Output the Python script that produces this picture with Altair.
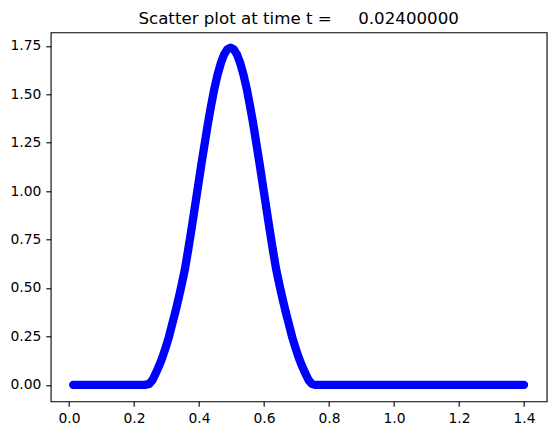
import altair as alt
import pandas as pd

# flat zero region (left)
x_left_flat = [0.013, 0.033, 0.053, 0.073, 0.093, 0.113, 0.133, 0.153, 0.173, 0.193, 0.213, 0.233]
# bump region
x_bump = [0.247, 0.257, 0.267, 0.277, 0.287, 0.297, 0.307, 0.317, 0.327, 0.337,
          0.347, 0.357, 0.367, 0.377, 0.387, 0.397, 0.407, 0.417, 0.427, 0.437,
          0.447, 0.457, 0.467, 0.477, 0.487, 0.497, 0.507, 0.517, 0.527, 0.537,
          0.547, 0.557, 0.567, 0.577, 0.587, 0.597, 0.607, 0.617, 0.627, 0.637,
          0.647, 0.657, 0.667, 0.677, 0.687, 0.697, 0.707, 0.717, 0.727, 0.737,
          0.747]
y_bump = [0.005, 0.025, 0.06, 0.097, 0.14, 0.19, 0.245, 0.31, 0.375, 0.445,
          0.52, 0.60, 0.70, 0.805, 0.915, 1.025, 1.135, 1.24, 1.345, 1.44,
          1.527, 1.60, 1.66, 1.705, 1.732, 1.741, 1.732, 1.705, 1.66, 1.60,
          1.527, 1.44, 1.345, 1.24, 1.135, 1.025, 0.915, 0.805, 0.70, 0.60,
          0.52, 0.445, 0.375, 0.31, 0.245, 0.19, 0.14, 0.097, 0.06, 0.025,
          0.005]
# flat zero region (right)
x_right_flat = [0.757, 0.777, 0.797, 0.817, 0.837, 0.857, 0.877, 0.897, 0.917, 0.937,
                0.957, 0.977, 0.997, 1.017, 1.037, 1.057, 1.077, 1.097, 1.117, 1.137,
                1.157, 1.177, 1.197, 1.217, 1.237, 1.257, 1.277, 1.297, 1.317, 1.337,
                1.357, 1.377, 1.400]

x_ticks = [0.0, 0.2, 0.4, 0.6, 0.8, 1.0, 1.2, 1.4]
y_ticks = [0.0, 0.25, 0.5, 0.75, 1.0, 1.25, 1.5, 1.75]

xs = x_left_flat + x_bump + x_right_flat
ys = [0.0] * len(x_left_flat) + y_bump + [0.0] * len(x_right_flat)
df = pd.DataFrame({"x": xs, "y": ys})

title_text = "Scatter plot at time t =" + "\u00a0" * 5 + "0.02400000"

xenc = alt.X("x:Q", scale=alt.Scale(domain=[-0.0564, 1.4697], nice=False, zero=False),
             axis=alt.Axis(values=x_ticks, format=".1f", title=None))
yenc = alt.Y("y:Q", scale=alt.Scale(domain=[-0.085, 1.82], nice=False, zero=False),
             axis=alt.Axis(values=y_ticks, format=".2f", title=None))

base = alt.Chart(df).encode(x=xenc, y=yenc, order="x:Q")
line = base.mark_line(color="#0000ff", strokeWidth=8.3, strokeCap="round", strokeJoin="round")
pts = base.mark_circle(color="#0000ff", size=54, opacity=1)

chart = (line + pts).properties(
    width=496, height=369,
    title=alt.TitleParams(title_text, fontSize=16.67, font="DejaVu Sans", fontWeight="normal",
                          color="black", anchor="middle", offset=5),
    autosize=alt.AutoSizeParams(type="none"),
    padding={"left": 42.67, "top": 24.3, "right": 1, "bottom": 25},
).configure_view(stroke="black", strokeWidth=1.1).configure_axis(
    grid=False, domain=False, ticks=True, tickColor="black", tickWidth=1.1, tickSize=4.86,
    labelFont="DejaVu Sans", labelFontSize=13.9, labelColor="black", labelPadding=4.86,
    labelFlush=False,
)

chart.save("out.html", embed_options={"renderer": "svg", "actions": False})
